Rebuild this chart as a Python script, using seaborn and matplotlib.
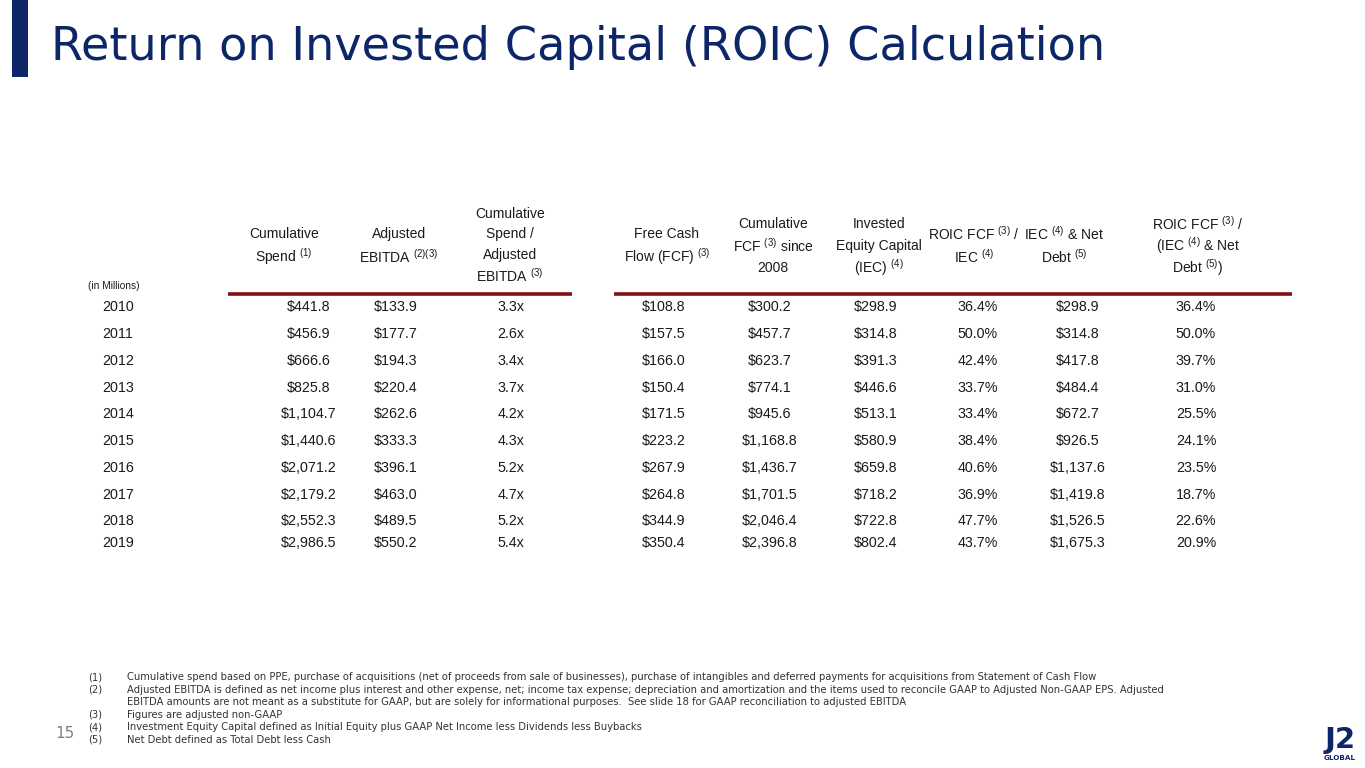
import matplotlib
matplotlib.use("Agg")
import matplotlib.pyplot as plt
import seaborn as sns
import pandas as pd

# ---------------- data ----------------
years = [2010, 2011, 2012, 2013, 2014, 2015, 2016, 2017, 2018, 2019]
cum_spend = [441.8, 456.9, 666.6, 825.8, 1104.7, 1440.6, 2071.2, 2179.2, 2552.3, 2986.5]
adj_ebitda = [133.9, 177.7, 194.3, 220.4, 262.6, 333.3, 396.1, 463.0, 489.5, 550.2]
spend_to_ebitda = [3.3, 2.6, 3.4, 3.7, 4.2, 4.3, 5.2, 4.7, 5.2, 5.4]
fcf = [108.8, 157.5, 166.0, 150.4, 171.5, 223.2, 267.9, 264.8, 344.9, 350.4]
cum_fcf = [300.2, 457.7, 623.7, 774.1, 945.6, 1168.8, 1436.7, 1701.5, 2046.4, 2396.8]
iec = [298.9, 314.8, 391.3, 446.6, 513.1, 580.9, 659.8, 718.2, 722.8, 802.4]
roic_iec = [36.4, 50.0, 42.4, 33.7, 33.4, 38.4, 40.6, 36.9, 47.7, 43.7]
iec_net_debt = [298.9, 314.8, 417.8, 484.4, 672.7, 926.5, 1137.6, 1419.8, 1526.5, 1675.3]
roic_iec_net_debt = [36.4, 50.0, 39.7, 31.0, 25.5, 24.1, 23.5, 18.7, 22.6, 20.9]

headers = [
    ["Cumulative", r"Spend $^{(1)}$"],
    ["Adjusted", r"EBITDA $^{(2)(3)}$"],
    ["Cumulative", "Spend /", "Adjusted", r"EBITDA $^{(3)}$"],
    ["Free Cash", r"Flow (FCF) $^{(3)}$"],
    ["Cumulative", r"FCF $^{(3)}$ since", "2008"],
    ["Invested", "Equity Capital", r"(IEC) $^{(4)}$"],
    [r"ROIC FCF $^{(3)}$ /", r"IEC $^{(4)}$"],
    [r"IEC $^{(4)}$ & Net", r"Debt $^{(5)}$"],
    [r"ROIC FCF $^{(3)}$ /", r"(IEC $^{(4)}$ & Net", r"Debt $^{(5)}$)"],
]

title = "Return on Invested Capital (ROIC) Calculation"
footnotes = [
    ("(1)", "Cumulative spend based on PPE, purchase of acquisitions (net of proceeds from sale of businesses), purchase of intangibles and deferred payments for acquisitions from Statement of Cash Flow"),
    ("(2)", "Adjusted EBITDA is defined as net income plus interest and other expense, net; income tax expense; depreciation and amortization and the items used to reconcile GAAP to Adjusted Non-GAAP EPS. Adjusted"),
    ("", "EBITDA amounts are not meant as a substitute for GAAP, but are solely for informational purposes.  See slide 18 for GAAP reconciliation to adjusted EBITDA"),
    ("(3)", "Figures are adjusted non-GAAP"),
    ("(4)", "Investment Equity Capital defined as Initial Equity plus GAAP Net Income less Dividends less Buybacks"),
    ("(5)", "Net Debt defined as Total Debt less Cash"),
]


def money(v):
    return "${:,.1f}".format(v)


def mult(v):
    return "{:.1f}x".format(v)


def pct(v):
    return "{:.1f}%".format(v)


df = pd.DataFrame({
    "year": [str(y) for y in years],
    "cum_spend": [money(v) for v in cum_spend],
    "adj_ebitda": [money(v) for v in adj_ebitda],
    "spend_to_ebitda": [mult(v) for v in spend_to_ebitda],
    "fcf": [money(v) for v in fcf],
    "cum_fcf": [money(v) for v in cum_fcf],
    "iec": [money(v) for v in iec],
    "roic_iec": [pct(v) for v in roic_iec],
    "iec_net_debt": [money(v) for v in iec_net_debt],
    "roic_iec_net_debt": [pct(v) for v in roic_iec_net_debt],
})

# ---------------- style / layout ----------------
sns.set_theme(style="white")
plt.rcParams["font.family"] = ["Liberation Sans", "DejaVu Sans"]
plt.rcParams["mathtext.fontset"] = "custom"
plt.rcParams["mathtext.rm"] = "Liberation Sans"
plt.rcParams["mathtext.it"] = "Liberation Sans:italic"
plt.rcParams["mathtext.bf"] = "Liberation Sans:bold"

NAVY = "#0c2668"
RED = "#7d1218"
TXT = "#1a1a1a"

col_x = [118, 309, 396, 511, 664, 770, 876, 978, 1078, 1196]
head_x = [284, 399, 510, 667, 773, 879, 974, 1064, 1198]
row_y = [307, 334, 361, 388, 414, 441, 468, 495, 521, 543]
header_rows = {2: [234, 257], 3: [224, 246, 268], 4: [214, 234, 255, 276]}

fig = plt.figure(figsize=(13.65, 7.68), dpi=100)
ax = fig.add_axes([0, 0, 1, 1])
ax.set_xlim(0, 1365)
ax.set_ylim(768, 0)
ax.axis("off")

# title & accent bar
ax.add_patch(plt.Rectangle((12, 0), 16, 77, color=NAVY, lw=0))
ax.text(51, 48, title, fontsize=33.3, color=NAVY, family="DejaVu Sans",
        va="center", ha="left")

# headers
for j, lines in enumerate(headers):
    ys = header_rows[len(lines)]
    for line, y in zip(lines, ys):
        ax.text(head_x[j], y, line, fontsize=10, color=TXT, ha="center", va="center")

ax.text(88, 286, "(in Millions)", fontsize=7.3, color=TXT, ha="left", va="center")

# red rules
ax.hlines(294, 228, 572, color=RED, lw=2.6)
ax.hlines(294, 614, 1292, color=RED, lw=2.6)

# body
for i in range(len(df)):
    for j, col in enumerate(df.columns):
        ax.text(col_x[j], row_y[i], df.iloc[i][col], fontsize=10.3, color=TXT,
                ha="center", va="center", parse_math=False)

# footnotes
fy0, fdy = 677, 12.6
for k, (num, txt) in enumerate(footnotes):
    y = fy0 + k * fdy
    if num:
        ax.text(88, y, num, fontsize=7.2, color="#333333", family="DejaVu Sans",
                ha="left", va="center", parse_math=False)
    ax.text(127, y, txt, fontsize=7.2, color="#333333", family="DejaVu Sans",
            ha="left", va="center", parse_math=False)

# page number
ax.text(55, 734, "15", fontsize=11, color="#7f7f7f", family="DejaVu Sans",
        ha="left", va="center")

# logo
ax.text(1340, 740, "J2", fontsize=21, color=NAVY, family="DejaVu Sans",
        weight="bold", ha="center", va="center")
ax.text(1340, 758, "GLOBAL", fontsize=5.2, color=NAVY, family="DejaVu Sans",
        weight="bold", ha="center", va="center")

fig.savefig("out.png", dpi=100, facecolor="white")
